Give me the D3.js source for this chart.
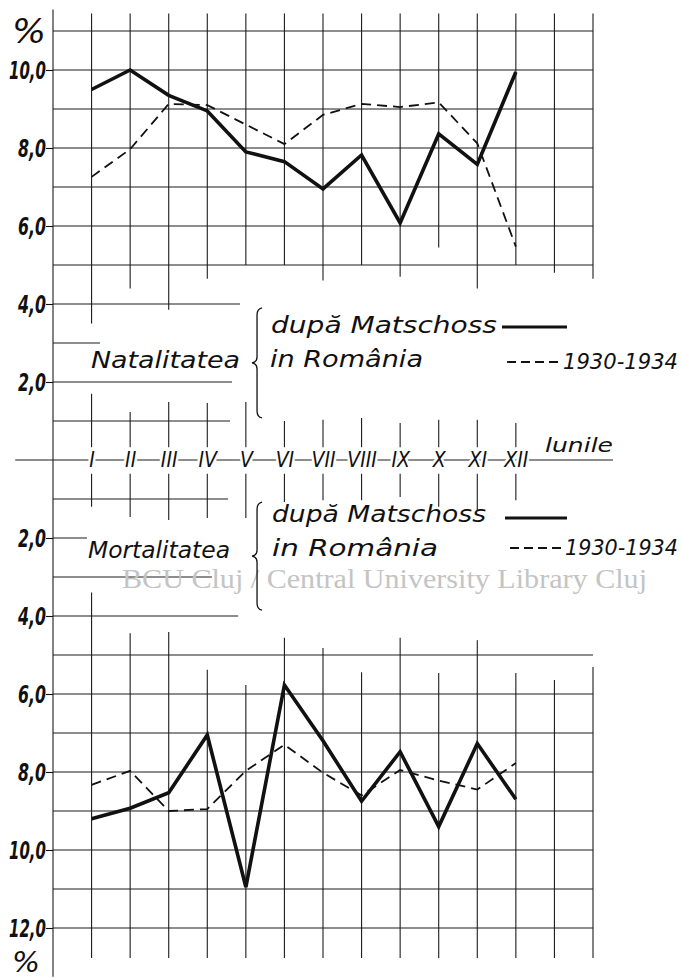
<!DOCTYPE html>
<html>
<head>
<meta charset="utf-8">
<script src="https://cdn.jsdelivr.net/npm/d3@7/dist/d3.min.js"></script>
<style>
   body { margin: 0; background: #fff; }
   svg { display: block; }
   .hand { font-family: "DejaVu Sans Condensed", "DejaVu Sans", sans-serif; font-style: italic; fill: #111; }
</style>
</head>
<body>
<svg width="682" height="978"></svg>
<script>
// DATA (per mille by month)
var months = ["I", "II", "III", "IV", "V", "VI", "VII", "VIII", "IX", "X", "XI", "XII"];
var natalitateMatschoss = [9.5, 10.0, 9.35, 8.95, 7.9, 7.65, 6.95, 7.82, 6.08, 8.36, 7.58, 9.95];
var natalitateRomania = [7.26, 7.97, 9.13, 9.1, 8.6, 8.1, 8.85, 9.13, 9.05, 9.17, 8.12, 5.47];
var mortalitateMatschoss = [9.2, 8.93, 8.53, 7.05, 10.95, 5.77, 7.2, 8.75, 7.48, 9.4, 7.27, 8.7];
var mortalitateRomania = [8.33, 7.97, 9.0, 8.95, 7.97, 7.3, 8.02, 8.6, 7.95, 8.22, 8.45, 7.77];
var topTicks = [2, 4, 6, 8, 10];
var bottomTicks = [2, 4, 6, 8, 10, 12];

// hand drawn grid: [value, last column] for the rows
var topRows = [[11, 14], [10, 14], [9, 14], [8, 14], [7, 14], [6, 14], [5, 14], [4, 4.85], [3, 1.22], [2, 4.64], [1, 4.59]];
var bottomRows = [[1, 4.54], [2, 0.88], [3, 4.12], [4, 4.8], [5, 14], [6, 14], [7, 14], [8, 14], [9, 14], [10, 14], [11, 14], [12, 14]];
// columns: [column, top part ends at, upper stub starts at, lower stub ends at, bottom part starts at]
var columns = [
   [1, 3.5, 1.7, 1.2, 3.4], [2, 4.4, 1.23, 1.46, 4.44], [3, 3.85, 1.49, 1.54, 4.41],
   [4, 4.65, 1.46, 1.49, 5.38], [5, 5.0, 1.49, 1.49, 5.77], [6, 5.0, 1.0, 1.08, 4.56],
   [7, 4.6, 1.03, 1.03, 4.82], [8, 5.0, 1.08, 1.03, 5.44], [9, 4.7, 0.95, 0.95, 4.56],
   [10, 5.45, 1.03, 1.2, 5.46], [11, 4.4, 1.03, 1.28, 4.62], [12, 5.0, 0.95, 1.03, 5.46],
   [13, 4.8, null, null, 5.64], [14, 4.65, null, null, 5.31]
];

var svg = d3.select("svg");
var ink = "#111";

var x = d3.scaleLinear().domain([0, 14]).range([53, 593]);
var yTop = d3.scaleLinear().domain([0, 10]).range([460, 70]);
var yBottom = d3.scaleLinear().domain([0, 10]).range([460, 850]);

var grid = svg.append("g").attr("stroke", "#1c1c1c").attr("stroke-width", 1.1).attr("fill", "none");

function hline(y, x0, x1) {
   grid.append("line").attr("x1", x0).attr("x2", x1).attr("y1", y).attr("y2", y);
}
function vline(xp, y0, y1) {
   grid.append("line").attr("x1", xp).attr("x2", xp).attr("y1", y0).attr("y2", y1);
}

topRows.forEach(function (r) { hline(yTop(r[0]), x(0), x(r[1])); });
bottomRows.forEach(function (r) { hline(yBottom(r[0]), x(0), x(r[1])); });

columns.forEach(function (c) {
   vline(x(c[0]), yTop(11.45), yTop(c[1]));
   if (c[2] !== null) {
      vline(x(c[0]), yTop(c[2]), yTop(0.33));
      vline(x(c[0]), yBottom(0.35), yBottom(c[3]));
   }
   vline(x(c[0]), yBottom(c[4]), yBottom(12.77));
});

// left axis and month axis
vline(x(0), yTop(11.55), yBottom(13.25));
hline(yTop(0), x(-0.98), x(14.52));

// y axes
function styleAxis(g) {
   g.select(".domain").remove();
   g.selectAll(".tick line").attr("stroke", ink).attr("stroke-width", 1.1);
   g.selectAll(".tick text")
      .attr("class", "hand")
      .attr("fill", ink)
      .style("font-size", "24px")
      .style("font-weight", "bold")
      .attr("dy", "0.36em")
      .attr("textLength", function (d) { return d >= 10 ? 37 : 28; })
      .attr("lengthAdjust", "spacingAndGlyphs");
}
var fmt = function (d) { return d.toFixed(1).replace(".", ","); };

svg.append("g").attr("transform", "translate(" + x(0) + ",0)")
   .call(d3.axisLeft(yTop).tickValues(topTicks).tickFormat(fmt).tickSize(7).tickPadding(0))
   .call(styleAxis);
svg.append("g").attr("transform", "translate(" + x(0) + ",0)")
   .call(d3.axisLeft(yBottom).tickValues(bottomTicks).tickFormat(fmt).tickSize(7).tickPadding(0))
   .call(styleAxis);

// month labels on the zero line
svg.append("g").attr("transform", "translate(0," + yTop(0) + ")")
   .call(d3.axisBottom(x).tickValues(d3.range(1, 13)).tickFormat(function (i) { return months[i - 1]; }).tickSize(0).tickPadding(-8))
   .call(function (g) {
      g.select(".domain").remove();
      g.selectAll(".tick text")
         .attr("class", "hand")
         .attr("fill", ink)
         .style("font-size", "21px")
         .attr("stroke", "#fff")
         .attr("stroke-width", 5)
         .attr("paint-order", "stroke");
   });

// the four series
var lineTop = d3.line().x(function (d, i) { return x(i + 1); }).y(function (d) { return yTop(d); });
var lineBottom = d3.line().x(function (d, i) { return x(i + 1); }).y(function (d) { return yBottom(d); });

function drawSeries(values, gen, dashed) {
   svg.append("path")
      .datum(values)
      .attr("d", gen)
      .attr("fill", "none")
      .attr("stroke", ink)
      .attr("stroke-linejoin", "miter")
      .attr("stroke-width", dashed ? 1.8 : 3.6)
      .attr("stroke-dasharray", dashed ? "10,6" : null);
}
drawSeries(natalitateRomania, lineTop, true);
drawSeries(natalitateMatschoss, lineTop, false);
drawSeries(mortalitateRomania, lineBottom, true);
drawSeries(mortalitateMatschoss, lineBottom, false);

// annotations
function label(t, px, py, size, width, cls) {
   return svg.append("text")
      .attr("class", cls || "hand")
      .attr("x", px).attr("y", py)
      .style("font-size", size + "px")
      .attr("textLength", width)
      .attr("lengthAdjust", "spacingAndGlyphs")
      .text(t);
}

function brace(xc, y0, y1) {
   var ym = (y0 + y1) / 2, p = d3.path();
   p.moveTo(xc + 5, y0);
   p.quadraticCurveTo(xc, y0 + 1, xc, y0 + 7);
   p.lineTo(xc, ym - 6);
   p.quadraticCurveTo(xc, ym - 1, xc - 5, ym);
   p.quadraticCurveTo(xc, ym + 1, xc, ym + 6);
   p.lineTo(xc, y1 - 7);
   p.quadraticCurveTo(xc, y1 - 1, xc + 5, y1);
   svg.append("path").attr("d", p.toString()).attr("fill", "none").attr("stroke", ink).attr("stroke-width", 1.3);
}

function legendLine(x0, x1, py, dashed) {
   svg.append("line").attr("x1", x0).attr("x2", x1).attr("y1", py).attr("y2", py)
      .attr("stroke", ink)
      .attr("stroke-width", dashed ? 1.8 : 3)
      .attr("stroke-dasharray", dashed ? "9,5" : null);
}

label("%", 12, 43, 34, 34);
label("%", 12, 972, 28, 28);

// watermark of the scan
svg.append("text")
   .attr("x", 122).attr("y", 588)
   .attr("fill", "#c4c4c4")
   .style("font-family", "'Liberation Serif', 'DejaVu Serif', serif")
   .style("font-size", "28px")
   .attr("textLength", 525)
   .attr("lengthAdjust", "spacingAndGlyphs")
   .text("BCU Cluj / Central University Library Cluj");

// natalitatea legend
label("Natalitatea", 91, 368, 23, 149);
brace(x(5.29), yTop(3.9), yTop(1.08));
label("după Matschoss", 271, 333, 23, 226);
legendLine(502, 567, 327, false);
label("in România", 270, 367, 23, 153);
legendLine(507, 561, 362, true);
label("1930-1934", 563, 369, 21, 115);

// mortalitatea legend
label("Mortalitatea", 88, 558, 23, 142);
brace(x(5.29), yBottom(1.08), yBottom(3.85));
label("după Matschoss", 272, 522, 23, 214);
legendLine(505, 567, 518, false);
label("in România", 272, 556, 23, 166);
legendLine(510, 563, 548, true);
label("1930-1934", 565, 555, 21, 113);

label("lunile", 545, 452, 19, 68);
</script>
</body>
</html>
